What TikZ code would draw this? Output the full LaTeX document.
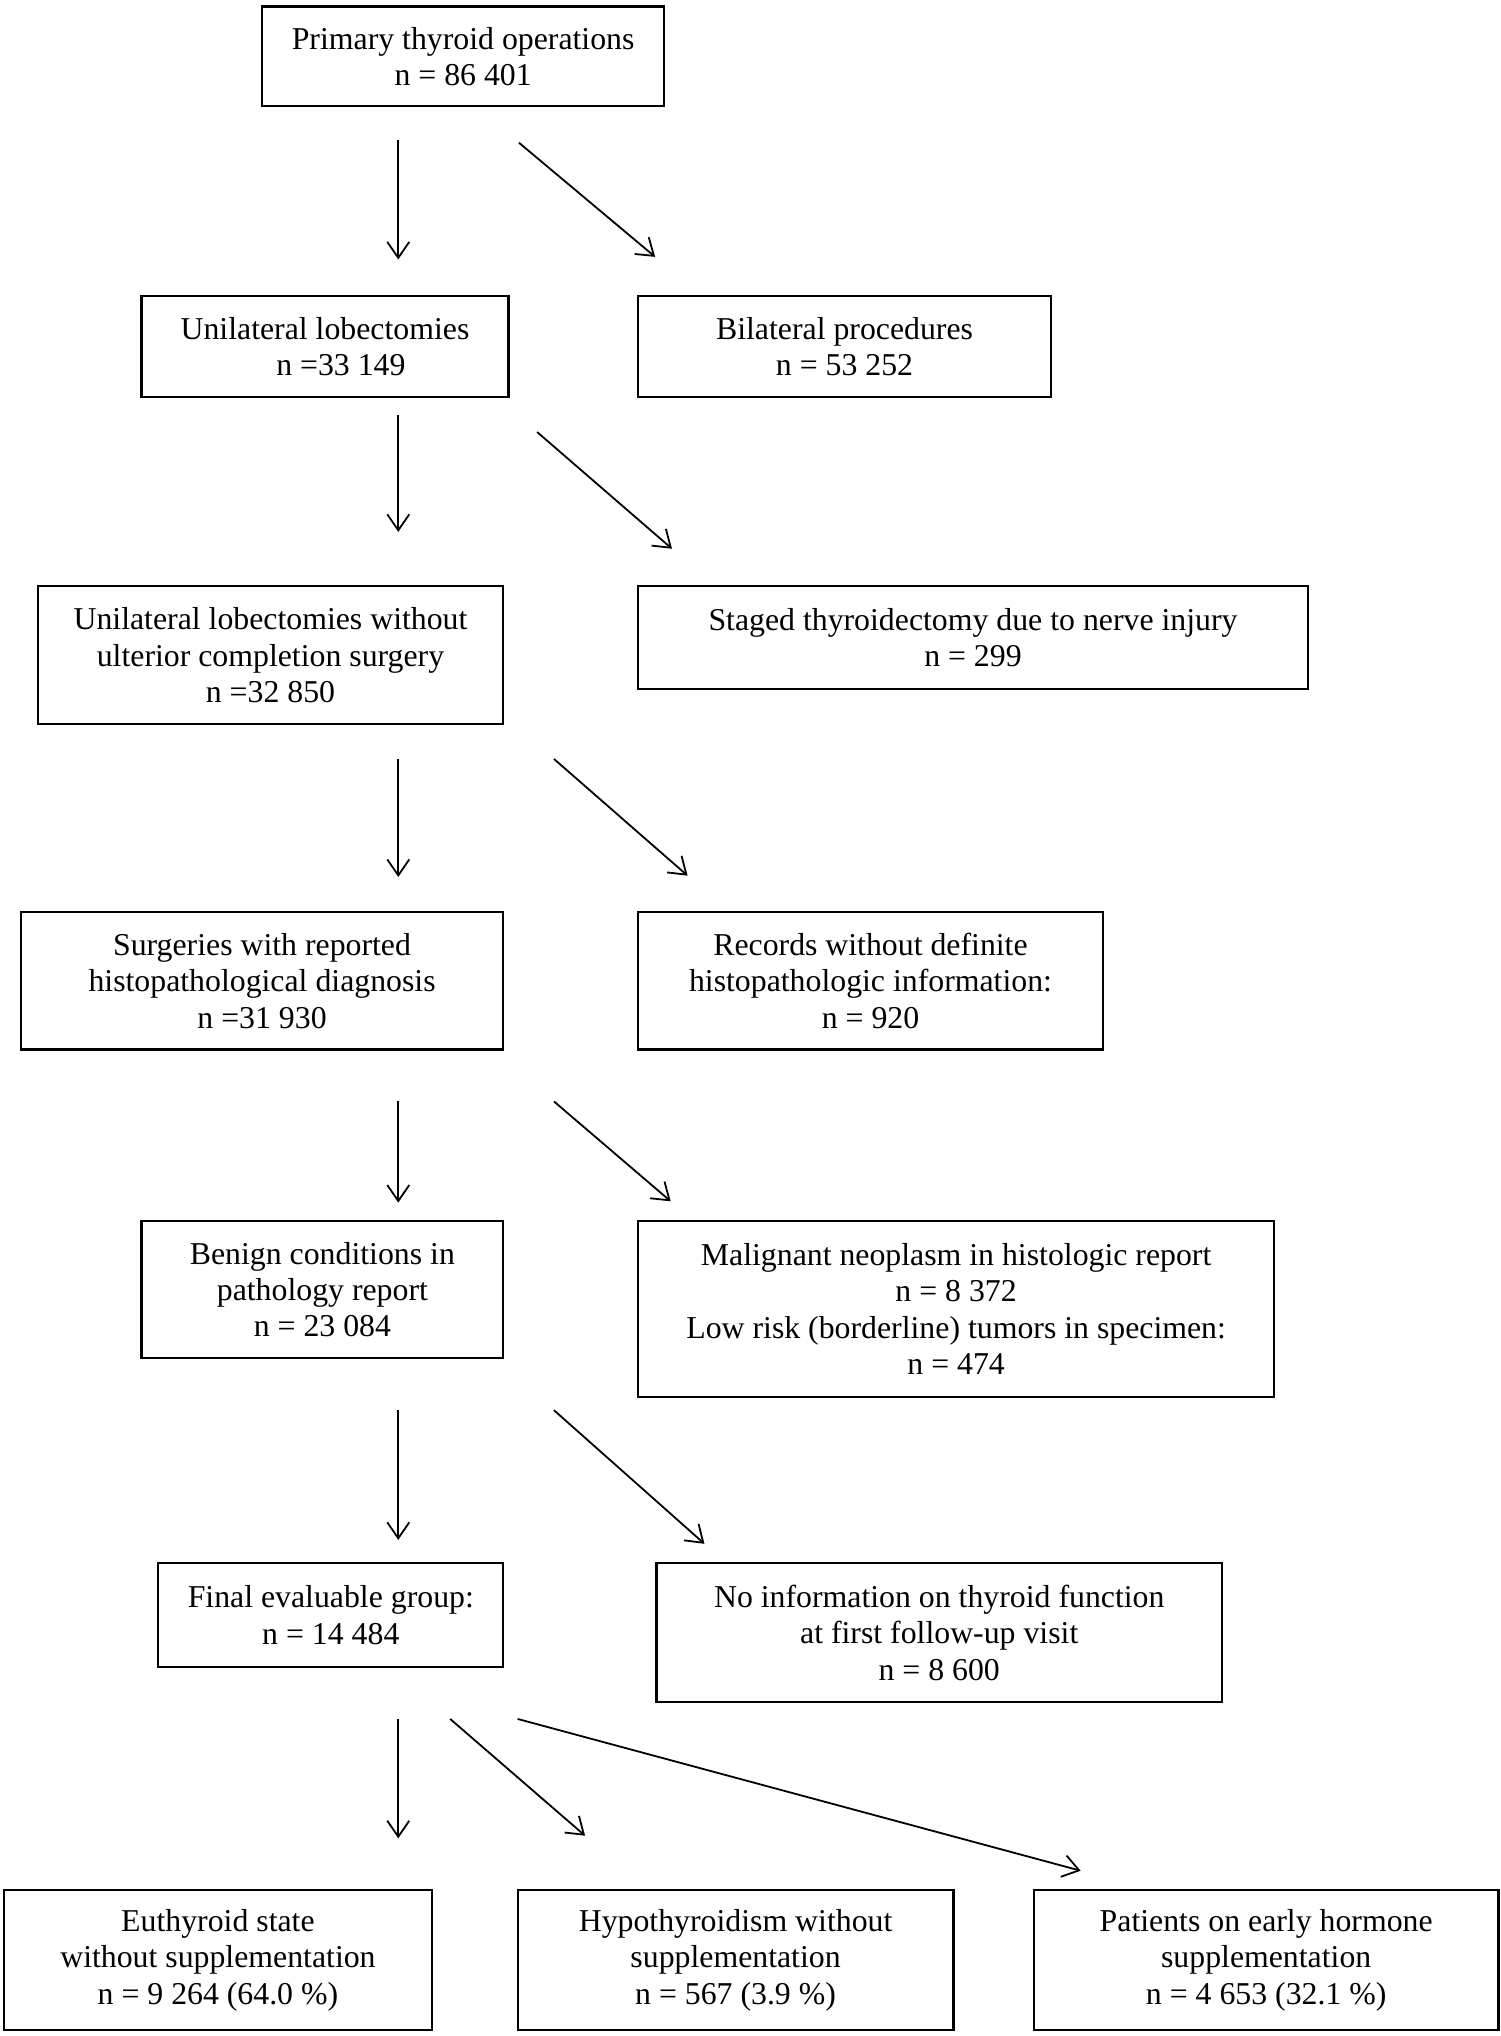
\documentclass[tikz,border=0pt]{standalone}
\usepackage{fontspec}
\setmainfont{Liberation Serif}
\usetikzlibrary{arrows.meta}
\newcommand\flowbox[6]{\node[box, minimum width={(#4-#2)*0.6487pt}, minimum height={(#5-#3)*0.6487pt}] (#1) at ({(#2+#4)/2},{(#3+#5)/2}) {#6};}
\newcommand\flowarrow[5]{\coordinate (#1s) at (#2,#3); \coordinate (#1e) at (#4,#5); \draw[arr] (#1s) -- (#1e);}
\begin{document}
\begin{tikzpicture}[x=0.6487pt,y=-0.6487pt,
  box/.style={draw=black, line width=1.1pt, rectangle, inner sep=0pt, align=center,
    font=\fontsize{15.9}{18.2}\selectfont},
  arr/.style={line width=0.9pt, -{Straight Barb[length=8pt,width=11pt,line width=0.9pt]}}]
\useasboundingbox (0,0) rectangle (1156.9,1569.4);
\flowbox{b1}{202}{5}{512}{82}{Primary thyroid operations\\n = 86 401}
\flowbox{b2}{109}{228}{392}{306}{Unilateral lobectomies\\\hspace*{1em}n =33 149}
\flowbox{b3}{492}{228}{810}{306}{Bilateral procedures\\n = 53 252}
\flowbox{b4}{29}{452}{388}{558}{Unilateral lobectomies without\\ulterior completion surgery\\n =32 850}
\flowbox{b5}{492}{452}{1008}{531}{Staged thyroidectomy due to nerve injury\\n = 299}
\flowbox{b6}{16}{703}{388}{809}{Surgeries with reported\\histopathological diagnosis\\n =31 930}
\flowbox{b7}{492}{703}{850}{809}{Records without definite\\histopathologic information:\\n = 920}
\flowbox{b8}{109}{941}{388}{1047}{Benign conditions in\\pathology report\\n = 23 084}
\flowbox{b9}{492}{941}{982}{1077}{Malignant neoplasm in histologic report\\n = 8 372\\Low risk (borderline) tumors in specimen:\\n = 474}
\flowbox{b10}{122}{1205}{388}{1285}{Final evaluable group:\\n = 14 484}
\flowbox{b11}{506}{1205}{942}{1312}{No information on thyroid function\\at first follow-up visit\\n = 8 600}
\flowbox{b12}{3}{1457}{333}{1565}{Euthyroid state\\without supplementation\\n = 9 264 (64.0 \%)}
\flowbox{b13}{399}{1457}{735}{1565}{Hypothyroidism without\\supplementation\\n = 567 (3.9 \%)}
\flowbox{b14}{797}{1457}{1155}{1565}{Patients on early hormone\\supplementation\\n = 4 653 (32.1 \%)}
\flowarrow{a1}{307}{108}{307}{200}
\flowarrow{d1}{400}{110}{505}{198}
\flowarrow{a2}{307}{320}{307}{410}
\flowarrow{d2}{414}{333}{518}{423}
\flowarrow{a3}{307}{585}{307}{676}
\flowarrow{d3}{427}{585}{530}{675}
\flowarrow{a4}{307}{849}{307}{927}
\flowarrow{d4}{427}{849}{517}{926}
\flowarrow{a5}{307}{1087}{307}{1187}
\flowarrow{d5}{427}{1087}{543}{1190}
\flowarrow{a6}{307}{1325}{307}{1417}
\flowarrow{d6}{347}{1325}{451}{1415}
\flowarrow{d7}{399}{1325}{833}{1442}
\end{tikzpicture}
\end{document}
